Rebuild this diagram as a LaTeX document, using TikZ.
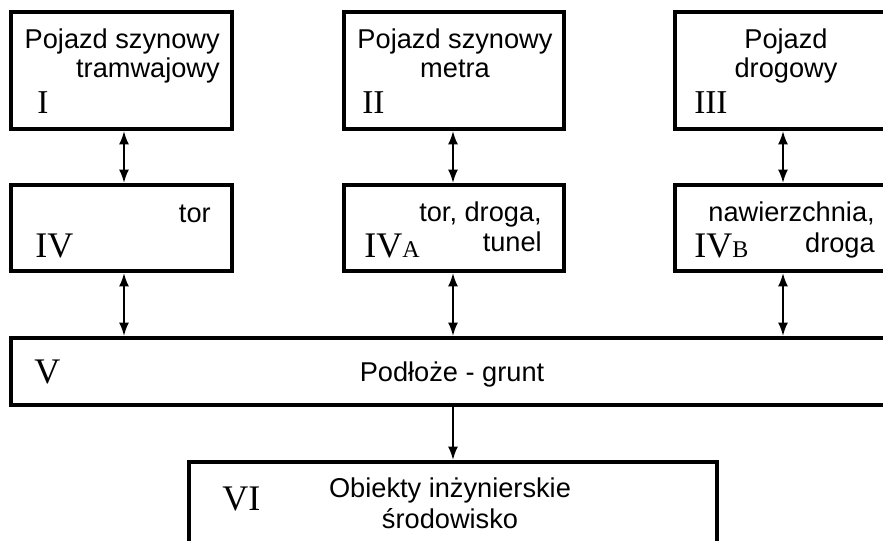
\documentclass[tikz,border=0pt]{standalone}
\usepackage{fontspec}
\setmainfont{Liberation Serif}
\setsansfont{Liberation Sans}
\usetikzlibrary{arrows.meta}
\tikzset{
  box/.style={draw, line width=3pt, rectangle, inner sep=0pt},
  lbl/.style={font=\sffamily\fontsize{20.4}{24}\selectfont, inner sep=0pt},
  num/.style={font=\rmfamily\fontsize{27}{30}\selectfont, inner sep=0pt},
  numtop/.style={font=\rmfamily\fontsize{25}{28}\selectfont, inner sep=0pt},
  link/.style={line width=1.5pt, {Latex[length=10pt,width=7.5pt]}-{Latex[length=10pt,width=7.5pt]}},
  down/.style={line width=1.5pt, -{Latex[length=10pt,width=7.5pt]}},
}
\newcommand{\subsm}[1]{{\fontsize{18}{20}\selectfont #1}}
\begin{document}
\begin{tikzpicture}[x=0.75pt,y=-0.75pt]
\useasboundingbox (0,0) rectangle (883,540);
\clip (0,0) rectangle (883,540);
% boxes
\node[box, minimum width={221*0.75pt}, minimum height={117*0.75pt}] (I) at (121.5,70.5) {};
\node[box, minimum width={220*0.75pt}, minimum height={117*0.75pt}] (II) at (454,70.5) {};
\node[box, minimum width={285*0.75pt}, minimum height={117*0.75pt}] (III) at (817.5,70.5) {};
\node[box, minimum width={221*0.75pt}, minimum height={86*0.75pt}] (IV) at (121.5,228) {};
\node[box, minimum width={220*0.75pt}, minimum height={86*0.75pt}] (IVA) at (454,228) {};
\node[box, minimum width={285*0.75pt}, minimum height={86*0.75pt}] (IVB) at (817.5,228) {};
\node[box, minimum width={949*0.75pt}, minimum height={67*0.75pt}] (V) at (485.5,371.5) {};
\node[box, minimum width={528*0.75pt}, minimum height={138*0.75pt}] (VI) at (453,531) {};
% column positions
\coordinate (c1) at (124,0);
\coordinate (c2) at (453,0);
\coordinate (c3) at (783,0);
% connectors
\draw[link] (I.south -| c1) -- (IV.north -| c1);
\draw[link] (II.south -| c2) -- (IVA.north -| c2);
\draw[link] (III.south -| c3) -- (IVB.north -| c3);
\draw[link] (IV.south -| c1) -- (V.north -| c1);
\draw[link] (IVA.south -| c2) -- (V.north -| c2);
\draw[link] (IVB.south -| c3) -- (V.north -| c3);
\draw[down] (V.south -| c2) -- (VI.north -| c2);
% texts box I
\node[lbl, anchor=base east] (tI1) at (220,48) {Pojazd szynowy};
\node[lbl, anchor=base east] (tI2) at (220,77) {tramwajowy};
\node[numtop, anchor=base west] (nI) at (37,113) {I};
% box II
\node[lbl, anchor=base] (tII1) at (455,48) {Pojazd szynowy};
\node[lbl, anchor=base] (tII2) at (455,77) {metra};
\node[numtop, anchor=base west] (nII) at (362,113) {II};
% box III
\node[lbl, anchor=base] (tIII1) at (786,48) {Pojazd};
\node[lbl, anchor=base] (tIII2) at (786,77) {drogowy};
\node[numtop, anchor=base west] (nIII) at (694,113) {III};
% box IV
\node[lbl, anchor=base east] (tIV) at (211,222) {tor};
\node[num, anchor=base west] (nIV) at (35,257) {IV};
% box IVA
\node[lbl, anchor=base east] (tIVA1) at (542,221) {tor, droga,};
\node[lbl, anchor=base east] (tIVA2) at (542,251) {tunel};
\node[num, anchor=base west] (nIVA) at (364,257) {IV\subsm{A}};
% box IVB
\node[lbl, anchor=base east] (tIVB1) at (875,221) {nawierzchnia,};
\node[lbl, anchor=base east] (tIVB2) at (875,252) {droga};
\node[num, anchor=base west] (nIVB) at (694,257) {IV\subsm{B}};
% box V
\node[num, anchor=base west] (nV) at (34,383) {V};
\node[lbl, anchor=base] (tV) at (452,381) {Podłoże - grunt};
% box VI
\node[num, anchor=base west] (nVI) at (222,510) {VI};
\node[lbl, anchor=base] (tVI1) at (450,497) {Obiekty inżynierskie};
\node[lbl, anchor=base] (tVI2) at (450,528) {środowisko};
\end{tikzpicture}
\end{document}
